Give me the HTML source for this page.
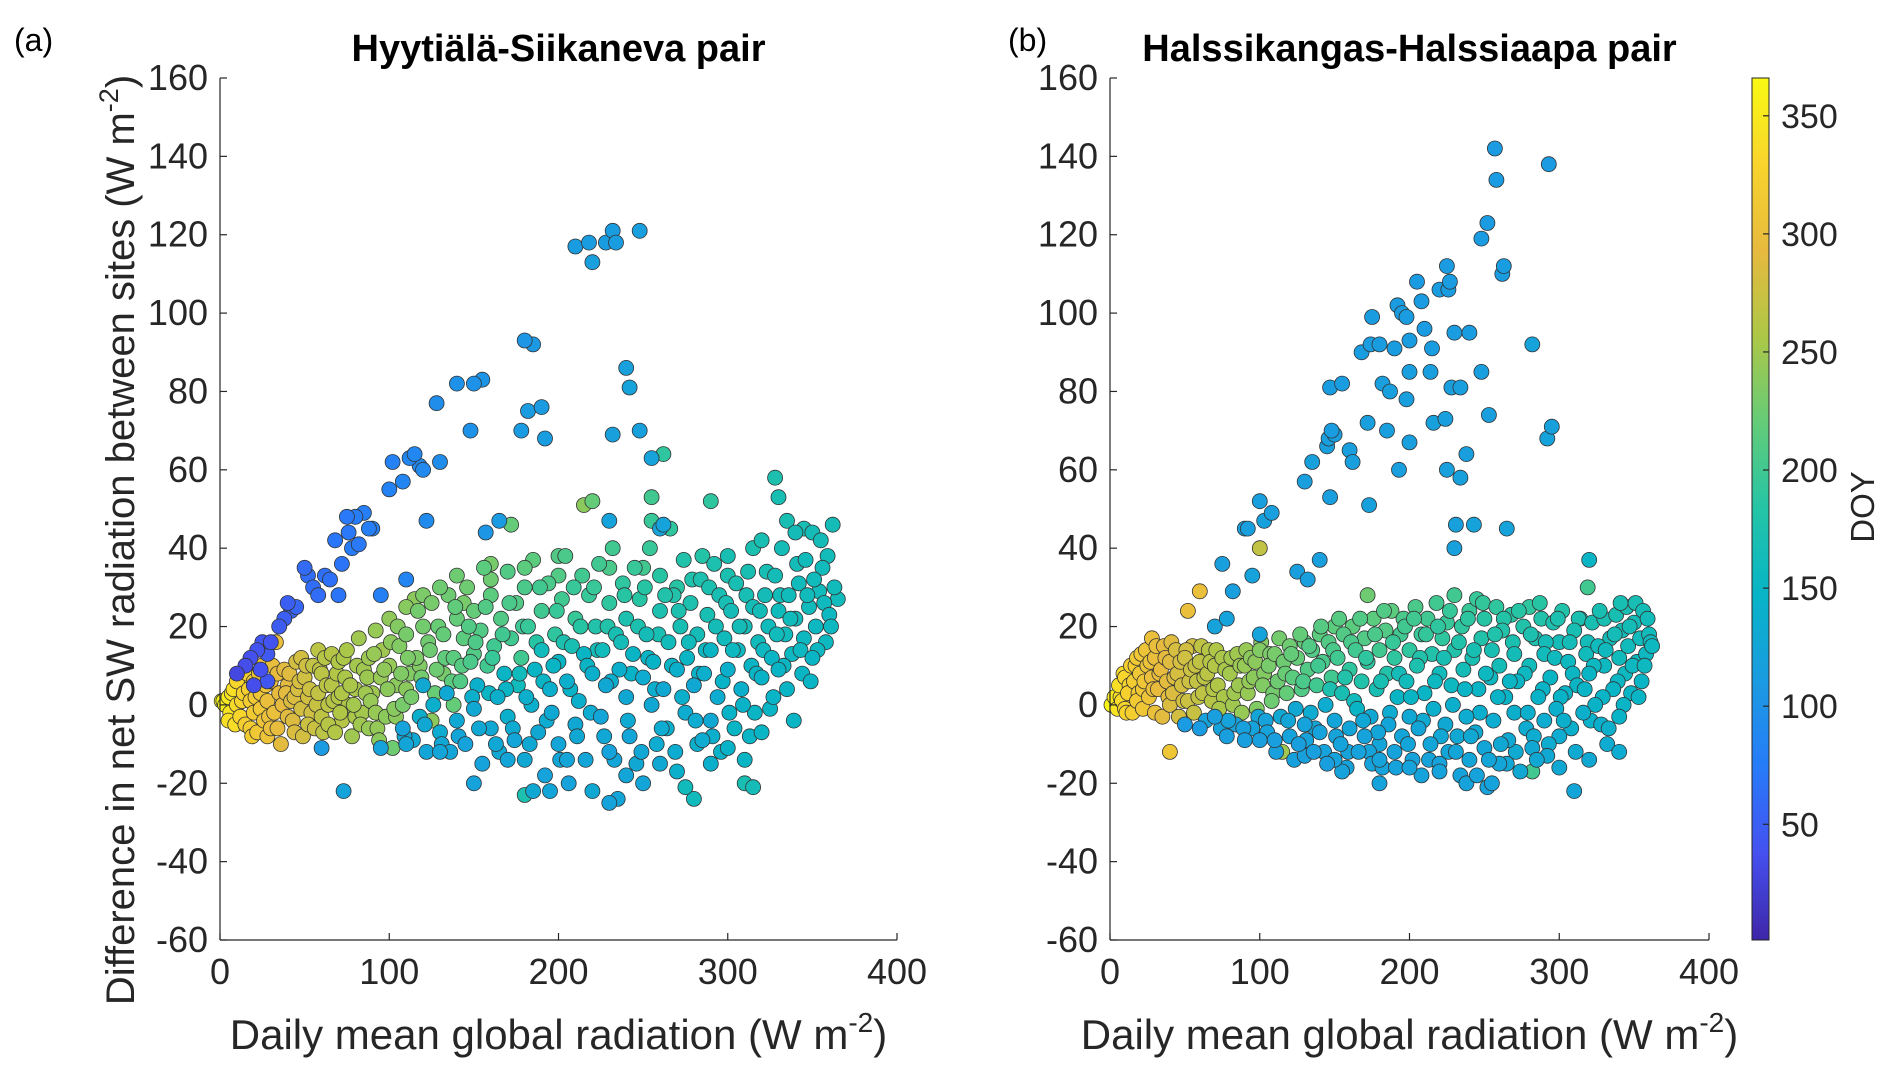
<!DOCTYPE html>
<html><head><meta charset="utf-8">
<style>
html,body{margin:0;padding:0;background:#fff;}
svg{display:block;font-family:"Liberation Sans",Arial,sans-serif;}
</style></head>
<body>
<svg id="fig" width="1892" height="1074" viewBox="0 0 1892 1074" xmlns="http://www.w3.org/2000/svg">
<defs>
<linearGradient id="parula" x1="0" y1="1" x2="0" y2="0">
<stop offset="0" stop-color="#3e26a8"/><stop offset="0.1" stop-color="#4550ef"/><stop offset="0.2" stop-color="#277bf9"/>
<stop offset="0.3" stop-color="#1b9be1"/><stop offset="0.4" stop-color="#07b4c7"/><stop offset="0.5" stop-color="#24c4a6"/>
<stop offset="0.6" stop-color="#64cc78"/><stop offset="0.7" stop-color="#adc747"/><stop offset="0.8" stop-color="#e7ba3e"/>
<stop offset="0.9" stop-color="#f8d42c"/><stop offset="1" stop-color="#f9fa14"/>
</linearGradient>
</defs>
<g id="root"></g>
</svg>
<script>
const xTicks=[0,100,200,300,400];
const yTicks=[-60,-40,-20,0,20,40,60,80,100,120,140,160];
const cbTicks=[50,100,150,200,250,300,350];
// panel a: [radiation, difference, DOY]
const aOutliers=[[10,8,30],[15,10,35],[18,12,38],[22,14,40],[25,16,42],[28,13,45],[30,16,40],[35,20,48],[38,22,50],[40,26,50],[42,24,55],[45,25,55],[50,35,60],[52,33,62],[55,30,62],[58,28,62],[62,33,65],[65,32,65],[68,42,70],[70,28,68],[72,36,68],[75,48,72],[76,44,72],[78,40,75],[80,48,75],[82,41,72],[85,49,78],[88,45,78],[90,45,80],[95,28,80],[100,55,82],[102,62,82],[108,57,85],[110,32,85],[112,63,88],[115,64,88],[118,61,90],[120,60,90],[122,47,92],[128,77,95],[130,62,95],[140,82,100],[148,70,100],[150,82,100],[155,83,102],[157,44,105],[165,47,110],[178,70,110],[180,93,105],[182,75,112],[185,92,108],[190,76,110],[192,68,112],[210,117,112],[218,118,112],[220,113,115],[228,118,112],[232,121,112],[234,118,112],[248,121,115],[232,69,118],[240,86,118],[242,81,120],[248,70,118],[255,63,120],[260,45,122],[262,46,120],[230,47,120],[20,5,35],[24,9,38],[28,6,42]];
const aCloud=[[2,1,360],[3,0,355],[5,2,350],[6,-2,345],[8,4,340],[10,0,335],[10,6,330],[12,-3,330],[14,3,325],[15,-5,320],[16,8,320],[18,1,318],[20,-2,315],[20,6,315],[22,-7,312],[24,3,310],[25,10,305],[26,-4,305],[28,1,300],[28,-8,305],[30,6,300],[32,-2,300],[33,16,300],[35,3,295],[36,-10,290],[38,9,290],[40,-3,288],[40,5,290],[42,1,285],[44,-7,285],[45,11,280],[46,4,282],[48,-1,280],[50,7,278],[52,-5,275],[52,2,280],[55,10,270],[56,-6,275],[58,3,270],[60,-3,268],[60,8,265],[62,12,262],[64,0,265],[66,5,262],[68,-7,260],[70,11,258],[70,2,260],[72,-4,262],[74,7,255],[75,14,255],[76,0,258],[78,-8,250],[80,4,255],[82,17,250],[84,-2,252],[85,9,250],[88,12,248],[88,-6,245],[90,3,250],[92,19,245],[94,-9,240],[95,7,245],[96,14,250],[98,-3,240],[100,10,245],[100,22,242],[102,-11,225],[104,5,240],[106,15,235],[108,0,230],[108,-6,120],[110,18,230],[112,8,235],[114,-9,130],[115,27,240],[116,12,232],[118,-3,140],[120,20,228],[120,5,130],[122,-12,125],[124,14,225],[125,26,230],[126,0,140],[128,9,225],[130,-7,135],[132,18,220],[134,3,130],[135,28,225],[136,-12,125],[138,12,215],[140,22,220],[140,-4,130],[142,6,210],[144,17,215],[145,-10,120],[146,30,225],[148,11,205],[150,-1,130],[150,24,220],[152,5,140],[154,19,210],[155,-15,120],[156,35,215],[158,10,200],[160,-6,130],[160,28,215],[162,15,200],[164,2,140],[165,-12,130],[166,22,210],[168,8,150],[170,34,210],[170,-3,140],[172,17,200],[174,-9,125],[175,26,210],[176,5,160],[178,12,200],[180,-14,130],[180,30,205],[182,20,195],[184,0,140],[185,37,215],[186,9,150],[188,-7,130],[190,24,200],[190,14,160],[192,-18,120],[194,31,205],[195,4,140],[196,-2,130],[198,18,190],[200,11,150],[200,-10,125],[202,27,200],[204,38,205],[205,6,140],[206,-20,120],[208,15,170],[210,22,195],[210,-5,130],[212,1,140],[214,33,200],[215,13,150],[216,-14,125],[218,28,195],[220,8,140],[220,-22,130],[222,20,180],[224,36,200],[225,-3,125],[226,14,160],[228,5,130],[230,26,190],[230,-12,120],[232,40,200],[234,18,170],[235,-24,125],[236,9,140],[238,31,190],[240,2,130],[240,22,175],[242,-8,125],[244,13,150],[245,35,195],[246,-15,130],[248,27,185],[250,7,135],[250,-20,125],[252,18,165],[254,40,195],[255,0,130],[256,11,145],[258,-10,135],[260,24,175],[260,33,185],[262,4,130],[264,-6,140],[265,16,160],[266,45,190],[268,28,180],[270,9,140],[270,-17,140],[272,20,170],[274,37,180],[275,-2,135],[276,12,150],[278,26,175],[280,5,130],[280,-24,160],[282,18,165],[284,32,175],[285,-9,135],[286,8,140],[288,23,170],[290,14,150],[290,-4,130],[292,36,175],[294,2,135],[295,28,170],[296,-12,145],[298,17,160],[300,9,140],[300,38,170],[302,24,165],[304,-6,150],[305,31,170],[306,14,155],[308,4,140],[310,20,165],[310,-20,170],[312,34,170],[314,10,150],[315,25,165],[316,-2,150],[318,16,160],[320,42,170],[320,7,145],[322,28,165],[324,20,160],[325,-1,150],[326,12,150],[328,33,165],[330,24,160],[330,9,150],[332,40,165],[334,18,160],[335,4,150],[336,28,160],[338,13,155],[340,44,165],[340,22,160],[342,31,160],[344,8,150],[345,17,155],[346,37,160],[348,25,160],[350,12,150],[350,44,165],[352,20,155],[354,29,160],[356,35,160],[358,16,155],[360,23,155],[362,46,165],[365,27,160],[330,53,170],[328,58,175],[255,53,200],[262,64,190],[172,46,220],[220,52,220],[255,47,195],[290,52,190],[180,-23,175],[185,-22,130],[195,-22,125],[230,-25,120],[275,-21,160],[315,-21,165],[73,-22,120],[150,-20,120],[95,-11,120],[60,-11,110],[215,51,240],[160,36,230],[200,38,210],[282,-10,140],[310,-14,150],[5,-4,340],[12,7,335],[18,-6,320],[24,-1,312],[30,-6,300],[34,8,295],[37,0,292],[44,2,285],[48,12,280],[54,-2,278],[58,14,265],[64,-5,262],[66,13,262],[72,3,258],[80,-3,255],[86,3,250],[92,-2,245],[104,-3,240],[110,4,240],[118,10,235],[125,-4,240],[132,8,230],[138,0,220],[144,26,230],[150,13,210],[1,1,362]];
const aFill=[[7,3,345],[9,-5,338],[13,1,328],[17,4,322],[19,-8,318],[21,2,314],[23,8,310],[27,5,305],[29,-3,302],[31,10,298],[34,-6,296],[39,3,290],[41,8,288],[43,-4,286],[47,6,282],[49,-8,280],[51,10,278],[53,4,276],[57,0,272],[59,9,268],[61,-7,266],[63,5,265],[67,1,262],[69,8,260],[71,-2,258],[73,12,256],[77,5,255],[79,0,252],[81,10,252],[83,-5,250],[87,7,248],[89,1,246],[91,13,246],[93,-6,244],[97,9,242],[99,4,240],[101,16,240],[103,-1,238],[105,20,236],[107,8,234],[109,-8,130],[111,12,232],[113,2,230],[117,24,228],[119,7,228],[121,-5,130],[123,16,226],[127,3,222],[129,20,222],[131,-10,128],[133,12,218],[137,6,216],[139,25,218],[141,-8,125],[143,10,212],[147,20,210],[149,2,140],[151,16,208],[153,-6,130],[157,25,210],[159,3,150],[161,12,195],[163,-10,128],[167,18,200],[169,4,150],[171,26,205],[173,-6,132],[177,8,160],[179,20,198],[181,2,140],[183,-10,130],[187,16,185],[189,30,200],[191,6,150],[193,-4,135],[197,10,150],[199,24,195],[201,-14,125],[203,16,175],[207,4,145],[209,30,195],[211,-8,130],[213,20,185],[217,10,150],[219,-2,135],[221,30,195],[223,14,165],[227,-8,128],[229,20,180],[231,6,140],[233,-14,125],[237,16,165],[239,28,185],[241,-4,132],[243,8,145],[247,20,175],[249,-12,128],[251,30,185],[253,12,150],[257,4,138],[259,18,170],[261,-6,135],[263,28,180],[267,10,150],[269,-12,135],[271,24,175],[273,2,140],[277,16,160],[279,32,178],[281,-4,135],[283,8,145],[287,14,155],[289,30,172],[291,-8,140],[293,20,165],[297,6,145],[299,26,168],[301,-2,145],[303,14,155],[307,20,165],[309,0,145],[311,28,168],[313,-8,150],[317,8,150],[319,24,165],[321,14,155],[323,34,168],[327,2,148],[329,18,160],[331,28,162],[333,10,152],[337,22,160],[339,-4,150],[341,36,165],[343,14,155],[347,28,160],[349,6,150],[351,32,160],[353,14,155],[357,26,158],[359,38,162],[361,20,155],[363,30,160],[130,30,225],[120,28,232],[110,25,238],[160,32,225],[140,33,225],[180,35,215],[200,33,210],[230,35,205],[250,35,200],[270,30,185],[285,38,182],[300,33,172],[315,40,172],[335,47,170],[345,45,168],[355,42,165],[240,-18,125],[260,-15,130],[205,-14,125],[170,-14,125],[130,-12,125],[110,-10,125],[290,-15,140],[300,-11,145],[320,-7,150]];
// panel b
const bOutliers=[[60,29,300],[52,24,300],[40,-12,310],[100,40,270],[70,20,120],[78,22,120],[82,29,115],[75,36,115],[90,45,115],[92,45,115],[95,33,120],[100,52,115],[103,47,118],[108,49,115],[100,18,120],[125,34,115],[130,57,115],[132,32,115],[135,62,118],[140,37,115],[145,66,115],[146,68,115],[147,81,112],[148,70,112],[150,69,115],[147,53,115],[155,82,112],[160,65,115],[162,62,115],[168,90,112],[172,72,115],[175,99,112],[174,92,112],[173,51,118],[180,92,112],[182,82,115],[185,70,115],[187,80,115],[190,91,112],[192,102,112],[193,60,115],[195,100,112],[198,99,112],[198,78,115],[200,85,115],[200,93,112],[200,67,115],[205,108,110],[208,103,110],[210,96,110],[214,85,115],[215,91,112],[216,72,118],[220,106,112],[224,73,115],[225,112,110],[225,60,118],[226,106,112],[227,108,112],[228,81,115],[230,95,112],[231,46,118],[230,40,118],[234,81,115],[234,58,118],[238,64,115],[240,95,112],[243,46,120],[248,119,110],[248,85,115],[252,123,110],[253,74,115],[257,142,110],[258,134,110],[262,110,112],[263,112,112],[265,45,120],[282,92,120],[292,68,120],[293,138,110],[295,71,118],[320,37,150],[319,30,200]];
const bCloud=[[3,2,350],[5,-1,345],[6,5,340],[8,1,335],[10,7,330],[10,-1,330],[12,3,325],[14,10,320],[15,-2,320],[16,6,318],[18,12,315],[18,1,315],[20,8,312],[22,-1,310],[22,4,310],[24,14,305],[25,10,305],[26,2,305],[28,17,300],[28,7,300],[30,-2,300],[30,12,298],[32,4,295],[34,9,295],[35,-3,290],[36,15,292],[38,6,290],[40,11,288],[40,0,285],[42,3,285],[44,14,282],[45,8,282],[46,-3,280],[48,5,280],[50,12,278],[50,-5,110],[52,1,275],[54,9,275],[55,15,280],[56,-2,272],[58,6,270],[60,11,268],[60,-6,110],[62,3,268],[64,-4,120],[65,8,265],[66,14,262],[68,1,262],[70,-3,115],[70,10,260],[72,5,258],[74,-6,120],[75,12,255],[76,2,255],[78,-8,115],[80,8,252],[82,0,250],[84,-5,120],[85,13,250],[86,5,248],[88,-2,245],[90,10,245],[90,-9,115],[92,3,245],[94,12,240],[95,-6,120],[96,7,240],[98,-1,235],[100,14,235],[100,-9,115],[102,5,235],[104,-4,120],[106,10,230],[108,1,225],[110,-9,115],[110,13,230],[112,6,225],[114,-3,130],[115,-12,250],[116,11,225],[118,3,220],[120,-8,120],[120,15,225],[122,7,215],[124,-1,130],[125,12,220],[126,-10,115],[128,4,210],[130,16,220],[130,-5,120],[132,9,210],[134,-2,135],[135,14,210],[136,-12,115],[138,5,200],[140,18,215],[140,-7,120],[142,11,205],[144,0,135],[145,-15,115],[146,16,210],[148,7,200],[150,-4,125],[150,20,215],[152,12,200],[154,-10,120],[155,3,170],[156,18,210],[158,-16,120],[160,9,190],[160,-6,125],[162,20,215],[164,14,200],[165,-1,150],[166,-12,120],[168,6,180],[170,17,210],[170,-8,120],[172,28,225],[172,11,190],[174,-3,130],[175,-15,120],[176,22,215],[178,4,170],[180,14,200],[180,-10,125],[182,-16,120],[184,19,210],[185,8,180],[186,-5,125],[188,24,215],[190,12,190],[190,-12,120],[192,2,150],[194,18,200],[195,-8,125],[196,22,205],[198,6,160],[200,-3,130],[200,14,190],[202,-14,120],[204,25,205],[205,10,175],[206,-6,125],[208,18,195],[208,-18,120],[210,3,150],[212,22,200],[214,-10,125],[215,13,180],[216,-1,140],[218,26,200],[220,8,160],[220,-15,120],[222,17,190],[224,-5,130],[225,21,195],[226,-12,125],[228,5,155],[230,28,200],[230,14,180],[232,-8,130],[234,-18,120],[235,20,190],[236,9,165],[238,-3,135],[240,24,195],[240,-14,125],[242,12,170],[244,-7,130],[245,27,195],[246,4,150],[248,17,180],[250,-11,125],[250,22,185],[252,-21,120],[254,7,155],[255,14,170],[256,-4,135],[258,25,190],[260,-15,125],[260,10,165],[262,19,180],[264,2,145],[266,-9,130],[268,23,185],[270,13,165],[270,-2,140],[272,6,150],[274,-17,130],[276,20,180],[278,-6,135],[280,25,190],[280,10,160],[282,-11,130],[284,17,175],[286,2,145],[288,22,180],[290,-4,135],[290,13,160],[292,-13,130],[294,7,150],[296,21,175],[298,-1,140],[300,16,165],[300,-8,135],[302,24,180],[304,3,145],[306,11,155],[308,-6,140],[310,19,170],[310,-22,125],[312,5,150],[314,22,175],[316,-2,140],[318,13,160],[320,8,150],[320,-14,130],[322,21,170],[324,0,145],[326,15,160],[328,-5,140],[330,22,170],[330,10,155],[332,-10,135],[334,17,165],[336,4,150],[338,23,170],[340,12,160],[340,-3,145],[342,19,165],[344,8,155],[345,25,170],[346,15,160],[348,3,150],[350,21,165],[352,11,155],[354,17,160],[355,6,150],[356,24,165],[358,13,155],[360,18,160],[362,15,155],[180,-20,120],[255,-20,120],[282,-17,200],[238,-20,120],[155,-17,120],[1,0,362]];
const bFill=[[7,2,342],[9,8,336],[11,-2,330],[13,5,326],[17,10,320],[19,3,316],[21,13,312],[23,6,310],[27,11,304],[29,4,300],[31,15,298],[33,8,296],[37,12,292],[39,2,290],[41,16,288],[43,7,286],[47,11,282],[49,1,280],[51,14,280],[53,6,276],[57,10,272],[59,2,270],[61,15,268],[63,7,266],[67,11,262],[69,4,260],[71,14,258],[73,-1,255],[77,9,255],[79,-4,120],[81,12,252],[83,3,250],[87,10,248],[89,-6,118],[91,14,246],[93,6,244],[97,11,240],[99,-3,125],[101,16,238],[103,8,236],[105,-7,120],[107,13,232],[109,3,228],[111,-12,118],[113,17,228],[117,8,222],[119,-4,125],[121,13,220],[123,-14,118],[127,18,220],[129,6,205],[131,-9,120],[133,15,210],[137,-6,125],[139,10,200],[141,20,212],[143,-12,120],[147,4,175],[149,14,205],[151,-8,122],[153,22,212],[157,7,180],[159,-12,122],[161,16,205],[163,1,160],[167,22,210],[169,-4,128],[171,12,190],[173,-12,122],[177,18,205],[179,-7,125],[181,6,170],[183,24,210],[187,-2,135],[189,16,195],[191,-16,120],[193,8,165],[197,20,200],[199,-10,125],[201,2,150],[203,22,200],[207,12,180],[209,-4,132],[211,18,192],[213,-14,122],[217,6,155],[219,20,190],[221,-8,128],[223,12,170],[227,24,195],[229,0,140],[231,-12,125],[233,16,180],[237,4,148],[239,22,188],[241,-8,130],[243,14,170],[247,-2,138],[249,26,192],[251,8,155],[253,-14,125],[257,18,178],[259,2,145],[261,-10,130],[263,22,182],[267,6,150],[269,16,172],[271,-12,132],[273,24,184],[277,8,155],[279,-2,140],[281,18,175],[283,-8,135],[287,26,185],[289,4,148],[291,16,165],[293,-10,135],[297,12,158],[299,22,175],[301,2,145],[303,-4,140],[307,16,165],[309,8,152],[311,-12,132],[313,22,172],[317,4,148],[319,16,162],[321,-4,142],[323,10,155],[327,24,170],[329,2,148],[331,14,158],[333,-6,140],[337,18,165],[339,6,152],[341,26,170],[343,0,148],[347,20,165],[349,10,155],[351,26,168],[353,2,150],[357,10,155],[359,22,162],[361,16,158],[180,-14,120],[200,-16,120],[220,-17,120],[245,-18,120],[265,-15,128],[150,-14,120],[130,-13,118],[300,-16,130],[285,-14,130],[340,-12,135]];

const NS='http://www.w3.org/2000/svg';
const root=document.getElementById('root');
const TXT='#262626';
function mk(tag,attrs,parent){const e=document.createElementNS(NS,tag);for(const k in attrs)e.setAttribute(k,attrs[k]);(parent||root).appendChild(e);return e;}
const stops=[[62,38,168],[69,80,239],[39,123,249],[27,155,225],[7,180,199],[36,196,166],[100,204,120],[173,199,71],[231,186,62],[248,212,44],[249,250,20]];
function parula(d){let t=(d-1)/365;t=Math.max(0,Math.min(1,t))*10;const i=Math.min(9,Math.floor(t)),f=t-i;const a=stops[i],b=stops[i+1];return 'rgb('+a.map((v,k)=>Math.round(v+(b[k]-v)*f)).join(',')+')';}
const yTop=78,yBot=940;
function yScale(v){return yBot-(v+60)/220*(yBot-yTop);}

function panel(id,x0,x1,title,tag,tagX,pts){
  const xScale=v=>x0+v/400*(x1-x0);
  const g=mk('g',{});
  
  
  const pg=mk('g',{},g);
  
  
  pts.forEach(p=>{
    const c=mk('circle',{cx:xScale(p[0]).toFixed(1),cy:yScale(p[1]).toFixed(1),r:7.5,fill:parula(p[2]),stroke:'#333','stroke-width':0.8},pg);
    
    
  });
  const ax=mk('g',{},g);
  
  
  mk('line',{x1:x0,y1:yTop,x2:x0,y2:yBot,stroke:TXT,'stroke-width':1.2},ax);
  mk('line',{x1:x0,y1:yBot,x2:x1,y2:yBot,stroke:TXT,'stroke-width':1.2},ax);
  yTicks.forEach(v=>{
    const y=yScale(v);
    mk('line',{x1:x0,y1:y,x2:x0+7,y2:y,stroke:TXT,'stroke-width':1.2},ax);
    const t=mk('text',{x:x0-12,y:y+12,'text-anchor':'end','font-size':36,fill:TXT},ax);
    t.textContent=v;
    
    
  });
  xTicks.forEach(v=>{
    const x=xScale(v);
    mk('line',{x1:x0,y1:yBot,x2:x0,y2:yBot,stroke:'none'},ax);
    mk('line',{x1:x,y1:yBot,x2:x,y2:yBot-7,stroke:TXT,'stroke-width':1.2},ax);
    const t=mk('text',{x:x,y:984,'text-anchor':'middle','font-size':36,fill:TXT},ax);
    t.textContent=v;
    
    
  });
  const xl=mk('text',{x:(x0+x1)/2,y:1049,'text-anchor':'middle','font-size':42,fill:TXT},g);
  xl.innerHTML='Daily mean global radiation (W m<tspan dy="-17" font-size="28">-2</tspan><tspan dy="17">)</tspan>';
  
  
  const tt=mk('text',{x:(x0+x1)/2,y:61,'text-anchor':'middle','font-size':38,'font-weight':'bold',fill:'#000'},g);
  tt.textContent=title;
  
  
  const lb=mk('text',{x:tagX,y:51,'font-size':32,fill:'#000'},g);
  lb.textContent=tag;
  
  
}
panel('a',220,897,'Hyytiälä-Siikaneva pair','(a)',14,aOutliers.concat(aCloud,aFill).sort((p,q)=>q[2]-p[2]));
panel('b',1110,1709,'Halssikangas-Halssiaapa pair','(b)',1008,bOutliers.concat(bCloud,bFill).sort((p,q)=>q[2]-p[2]));

const yl=mk('text',{x:0,y:0,'text-anchor':'middle','font-size':40,fill:TXT,transform:'translate(134,540) rotate(-90)'});
yl.innerHTML='Difference in net SW radiation between sites (W m<tspan dy="-16" font-size="27">-2</tspan><tspan dy="16">)</tspan>';



const cb=mk('g',{});


mk('rect',{x:1752,y:yTop,width:17,height:yBot-yTop,fill:'url(#parula)',stroke:TXT,'stroke-width':1},cb);
const cbY=d=>yBot-(d-1)/365*(yBot-yTop);
cbTicks.forEach(v=>{
  const y=cbY(v);
  mk('line',{x1:1763,y1:y,x2:1769,y2:y,stroke:TXT,'stroke-width':1.2},cb);
  const t=mk('text',{x:1781,y:y+12,'font-size':34,fill:TXT},cb);
  t.textContent=v;
  
  
});
const doy=mk('text',{x:0,y:0,'text-anchor':'middle','font-size':33,fill:TXT,transform:'translate(1874,507) rotate(-90)'},cb);
doy.textContent='DOY';


</script>
</body></html>
